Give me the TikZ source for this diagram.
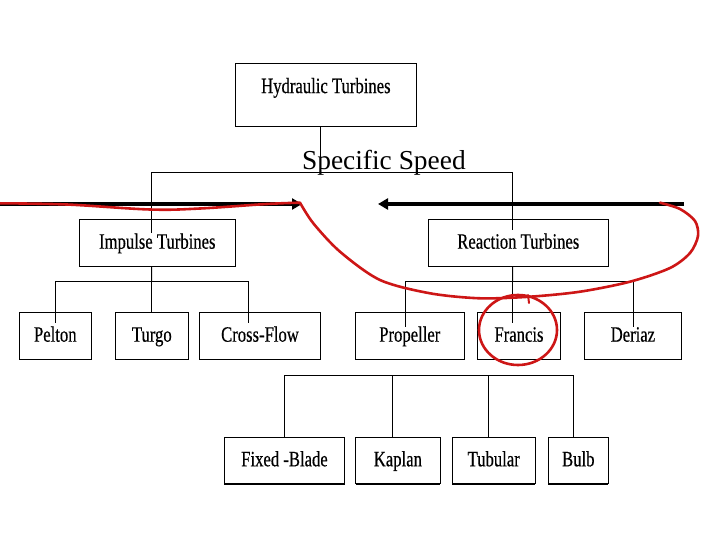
\documentclass[tikz,border=0pt]{standalone}
\usepackage{fontspec}
\setmainfont{Liberation Serif}
\newfontfamily\boxfont[FakeStretch=0.76,FakeBold=0.4]{Liberation Serif}
\usetikzlibrary{arrows.meta,shadows}
\definecolor{inkred}{RGB}{205,22,22}
\tikzset{box/.style={draw=black,line width=1bp,fill=white,inner sep=0pt,minimum height=47bp,text height=17bp,text depth=5bp,font=\boxfont\fontsize{22}{24}\selectfont,drop shadow={shadow xshift=0pt,shadow yshift=-1.2bp,fill=black,opacity=1}},link/.style={draw=black,line width=1bp},bigarrow/.style={-{Triangle[length=10bp,width=11bp]},line width=4bp},ink/.style={draw=inkred,line width=2.6bp,line cap=round,line join=round}}

\begin{document}
\begin{tikzpicture}[x=1bp,y=-1bp]
\useasboundingbox (0,0) rectangle (720,540);
\node[box,minimum width=180.3bp,minimum height=63bp,text height=30bp,text depth=33bp] (hydro) at (325.9,94.6) {Hydraulic Turbines};
\node[box,minimum width=156bp] (impulse) at (157.3,242.7) {Impulse Turbines};
\node[box,minimum width=180bp] (reaction) at (518.3,242.7) {Reaction Turbines};
\node[box,minimum width=72bp] (pelton) at (55.3,335.7) {Pelton};
\node[box,minimum width=73bp] (turgo) at (151.8,335.7) {Turgo};
\node[box,minimum width=121.4bp] (crossflow) at (260,335.7) {Cross-Flow};
\node[box,minimum width=109bp] (propeller) at (409.8,335.7) {Propeller};
\node[box,minimum width=83.4bp] (francis) at (519,335.7) {Francis};
\node[box,minimum width=97.7bp] (deriaz) at (632.9,335.7) {Deriaz};
\node[box,minimum width=120.4bp,minimum height=46bp] (fixed) at (284.5,460.3) {Fixed -Blade};
\node[box,minimum width=84.3bp,minimum height=46bp] (kaplan) at (397.9,460.3) {Kaplan};
\node[box,minimum width=82.7bp,minimum height=46bp] (tubular) at (493.7,460.3) {Tubular};
\node[box,minimum width=60bp,minimum height=46bp] (bulb) at (578.3,460.3) {Bulb};
\node[font=\fontsize{27.5}{30}\selectfont,anchor=base,inner sep=0pt] (spd) at (383.9,170) {Specific Speed};
% tree lines
\coordinate (bustop) at (320.5,172.5);
\coordinate (busL) at (151.5,281.5);
\coordinate (busR) at (512.5,281.5);
\coordinate (busB) at (284.5,375.5);
\draw[link] (hydro.south -| bustop) -- (bustop);
\draw[link] ([xshift=-5.8bp,yshift=-14bp]impulse.north) |- (bustop) -| ([xshift=-5.8bp,yshift=-11bp]reaction.north);
\draw[link] ([xshift=-5.8bp]impulse.south) -- (busL);
\draw[link] ([xshift=0.2bp,yshift=-11bp]pelton.north) |- (busL) -| ([xshift=-11.5bp,yshift=-11bp]crossflow.north);
\draw[link] (busL) -- (turgo.north -| busL);
\draw[link] ([xshift=-5.8bp]reaction.south) -- (busR);
\draw[link] ([xshift=-4.8bp,yshift=-15bp]propeller.north) |- (busR) -| ([xshift=0.6bp,yshift=-15bp]deriaz.north);
\draw[link] (busR) -- (francis.north -| busR) -- ++(0,11);
\draw[link] (fixed.north) -- (busB) -| ([xshift=-5bp]bulb.north);
\foreach \n in {kaplan,tubular} \draw[link] ([xshift=-5.4bp]\n.north) -- ([xshift=-5.4bp]\n.north |- busB);
% thick arrows
\coordinate (la) at (0,204);
\coordinate (lb) at (302,204);
\coordinate (ra) at (684,204);
\coordinate (rb) at (378,204);
\draw[bigarrow] (la) -- (lb);
\draw[bigarrow] (ra) -- (rb);
% red marks
\draw[ink] plot[smooth,tension=0.6] coordinates {(0,203.3) (66.7,204.5) (150,209.5) (200,208.5) (266.7,204) (300,202.7)}
  -- plot[smooth] coordinates {(300,202.7) (313.3,223.3) (340,251.7) (380,280) (430,293.3) (480,298.3) (530,296.7) (580,291.7) (630,281.7) (670,268) (690,253) (698,236) (695,221) (680,209) (660,202.7)};
\draw[ink] ([xshift=-1bp,yshift=5.7bp]francis.center) ellipse [x radius=39bp,y radius=35bp];
\draw[ink,line width=2bp] (528,295) -- (529,303);
\end{tikzpicture}
\end{document}
